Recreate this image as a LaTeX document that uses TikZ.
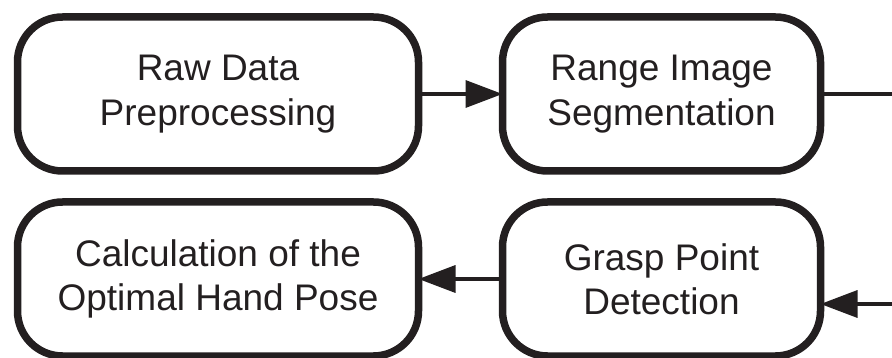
\documentclass[tikz,border=0pt]{standalone}
\usepackage{fontspec}
\setmainfont{Liberation Sans}
\usetikzlibrary{arrows.meta,positioning}
\definecolor{ink}{RGB}{35,31,32}

\begin{document}
\begin{tikzpicture}[->,>={Triangle[length=37pt,width=27pt]},line width=3.5pt,draw=ink,
  stage node/.style={rectangle,rounded corners=45pt,draw=ink,line width=7.5pt,
    minimum height=154pt,inner sep=0pt,outer sep=0pt,align=center,text=ink,
    font=\fontsize{37}{44.4}\selectfont}]

  \useasboundingbox (0pt,0pt) rectangle (892pt,-358pt);

  \node[stage node,minimum width=401pt] (Raw) at (218pt,-94pt) {Raw Data\\Preprocessing};
  \node[stage node,minimum width=318pt] (Seg) [right=84pt of Raw] {Range Image\\Segmentation};
  \node[stage node,minimum width=401pt] (Calc) [below=31pt of Raw] {Calculation of the\\Optimal Hand Pose};
  \node[stage node,minimum width=318pt] (Grasp) [below=31pt of Seg] {Grasp Point\\Detection};

  \coordinate [right=73pt of Seg] (SegOut);
  \coordinate [right=73pt of Grasp,yshift=-25pt] (GraspIn);

  \path
    (Raw) edge (Seg)
    (Grasp) edge (Calc);
  \draw[-] (Seg) -- (SegOut);
  \draw (GraspIn) -- (GraspIn -| Grasp.east);

\end{tikzpicture}
\end{document}
